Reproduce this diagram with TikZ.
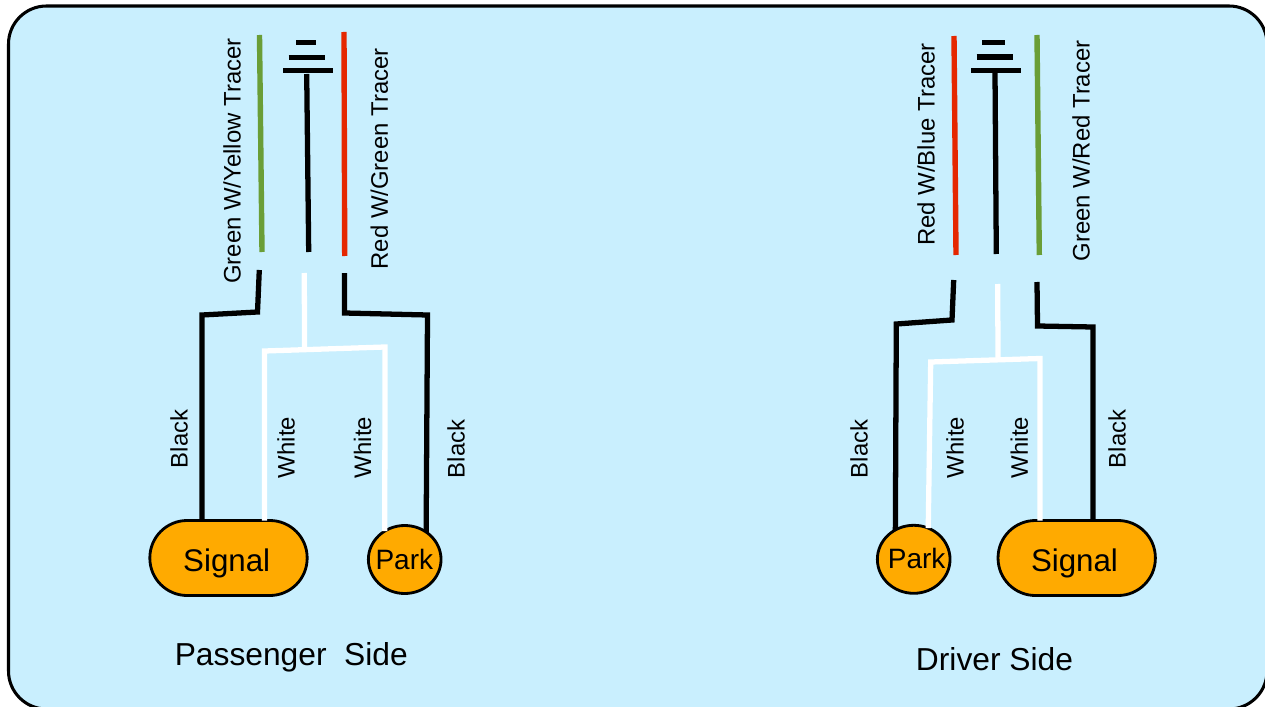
\documentclass[tikz,border=0pt]{standalone}
\usepackage{fontspec}
\setmainfont{Liberation Sans}
\usepackage{xcolor}
\usetikzlibrary{positioning, calc, shapes.geometric}
\definecolor{panelblue}{HTML}{C9EFFE}
\definecolor{bulborange}{HTML}{FFAA00}
\definecolor{tracerred}{HTML}{E52700}
\definecolor{tracergreen}{HTML}{6A9E37}
\newcommand{\bulbtext}[3]{\makebox[0pt]{\hspace{#1}\smash{\raisebox{#2}{#3}}}}
\tikzset{
	wire/.style={line width=4.5pt},
	tracer/.style={line width=4.6pt},
	wirelabel/.style={anchor=base, rotate=90, inner sep=0pt, font=\fontsize{20.4}{24}\selectfont},
	sidelabel/.style={anchor=base, inner sep=0pt, font=\fontsize{27.1}{32}\selectfont},
	signalbulb/.style={draw, fill=bulborange, line width=2.4pt, rounded corners=1.12cm, minimum width=4.72cm, minimum height=2.25cm, inner sep=0pt, outer sep=0pt, font=\fontsize{26.7}{32}\selectfont},
	parkbulb/.style={draw, fill=bulborange, line width=2.4pt, ellipse, minimum width=2.18cm, minimum height=2.04cm, inner sep=0pt, outer sep=0pt, font=\fontsize{23.9}{28}\selectfont}
}

\begin{document}
\begin{tikzpicture}[x=0.03cm, y=-0.03cm]
	\useasboundingbox (0,0) rectangle (1265,707);
	\draw[fill=panelblue, line width=2.6pt, rounded corners=1.14cm] (8.5,6) rectangle (1267,709);

	% passenger side
	\node[signalbulb] (signalP) at (228.5,558) {\bulbtext{-3.1pt}{-11.9pt}{Signal}};
	\node[parkbulb] (parkP) at (404.7,559.5) {\bulbtext{-0.6pt}{-8.2pt}{Park}};
	\node[sidelabel] (sideP) at (291.3,665.4) {Passenger\ \ Side};

	\coordinate (gP1) at (259.5,35);
	\coordinate (gP2) at (262,252);
	\coordinate (rP1) at (344,32);
	\coordinate (rP2) at (344.7,256);
	\coordinate (kP1) at (306.7,74);
	\coordinate (kP2) at (308.7,252);
	\coordinate (bP1) at (296,42.7);
	\coordinate (bP2) at (316,42.7);
	\coordinate (bP3) at (288.7,57.3);
	\coordinate (bP4) at (325,57.3);
	\coordinate (bP5) at (283,70.3);
	\coordinate (bP6) at (332.7,70.3);
	\coordinate (lP1) at (259.3,270);
	\coordinate (lP2) at (257.5,312);
	\coordinate (lP3) at (202,315);
	\coordinate (rbP1) at (344.5,273);
	\coordinate (rbP2) at (344.5,313);
	\coordinate (rbP3) at (427.5,315);
	\coordinate (wP1) at (304.3,273);
	\coordinate (wP2) at (304.5,349.5);
	\coordinate (wP3) at (264.5,351);
	\coordinate (wP4) at (385,347);

	\draw[tracer, tracergreen] (gP1) -- (gP2);
	\draw[tracer, tracerred] (rP1) -- (rP2);
	\draw[wire] (kP1) -- (kP2);
	\draw[wire] (bP1) -- (bP2);
	\draw[wire] (bP3) -- (bP4);
	\draw[wire] (bP5) -- (bP6);
	\draw[wire] (lP1) -- (lP2) -- (lP3) -- (signalP.north -| lP3);
	\draw[wire] (rbP1) -- (rbP2) -- (rbP3) -- (parkP.52);
	\draw[wire, white] (wP1) -- (wP2);
	\draw[wire, white] (signalP.north -| wP3) -- (wP3) -- (wP4) -- (parkP.125);

	\node[wirelabel] (tracerP1) at (240.5,161) {Green W/Yellow Tracer};
	\node[wirelabel] (tracerP2) at (387.8,158.8) {Red W/Green Tracer};
	\node[wirelabel] (blackP1) at (187.5,439) {Black};
	\node[wirelabel] (whiteP1) at (294.5,447.5) {White};
	\node[wirelabel] (whiteP2) at (371.2,447.5) {White};
	\node[wirelabel] (blackP2) at (464.5,449) {Black};

	% driver side
	\node[signalbulb] (signalD) at (1076.7,558) {\bulbtext{-3.8pt}{-11.9pt}{Signal}};
	\node[parkbulb] (parkD) at (913.7,559.3) {\bulbtext{5pt}{-8.2pt}{Park}};
	\node[sidelabel] (sideD) at (994.5,670) {Driver Side};

	\coordinate (rD1) at (954,36);
	\coordinate (rD2) at (956,255);
	\coordinate (gD1) at (1037,35);
	\coordinate (gD2) at (1039.3,255);
	\coordinate (kD1) at (995,72);
	\coordinate (kD2) at (996.3,254);
	\coordinate (bD1) at (982,42.5);
	\coordinate (bD2) at (1005,42.5);
	\coordinate (bD3) at (976.7,57);
	\coordinate (bD4) at (1013,57);
	\coordinate (bD5) at (971,70.3);
	\coordinate (bD6) at (1021,70.3);
	\coordinate (lD1) at (953.7,280);
	\coordinate (lD2) at (952,320);
	\coordinate (lD3) at (896.3,324);
	\coordinate (rbD1) at (1037,282);
	\coordinate (rbD2) at (1037.5,326);
	\coordinate (rbD3) at (1093,327);
	\coordinate (wD1) at (997.7,284);
	\coordinate (wD2) at (998,358);
	\coordinate (wD3) at (930.7,362);
	\coordinate (wD4) at (1040,358.5);

	\draw[tracer, tracerred] (rD1) -- (rD2);
	\draw[tracer, tracergreen] (gD1) -- (gD2);
	\draw[wire] (kD1) -- (kD2);
	\draw[wire] (bD1) -- (bD2);
	\draw[wire] (bD3) -- (bD4);
	\draw[wire] (bD5) -- (bD6);
	\draw[wire] (lD1) -- (lD2) -- (lD3) -- (parkD.122);
	\draw[wire] (rbD1) -- (rbD2) -- (rbD3) -- (signalD.north -| rbD3);
	\draw[wire, white] (wD1) -- (wD2);
	\draw[wire, white] (parkD.65) -- (wD3) -- (wD4) -- (signalD.north -| wD4);

	\node[wirelabel] (tracerD1) at (934.5,144.5) {Red W/Blue Tracer};
	\node[wirelabel] (tracerD2) at (1089.5,151) {Green W/Red Tracer};
	\node[wirelabel] (blackD1) at (867.5,449) {Black};
	\node[wirelabel] (whiteD1) at (963.5,447.5) {White};
	\node[wirelabel] (whiteD2) at (1027.8,447.5) {White};
	\node[wirelabel] (blackD2) at (1125.5,439) {Black};
\end{tikzpicture}
\end{document}
